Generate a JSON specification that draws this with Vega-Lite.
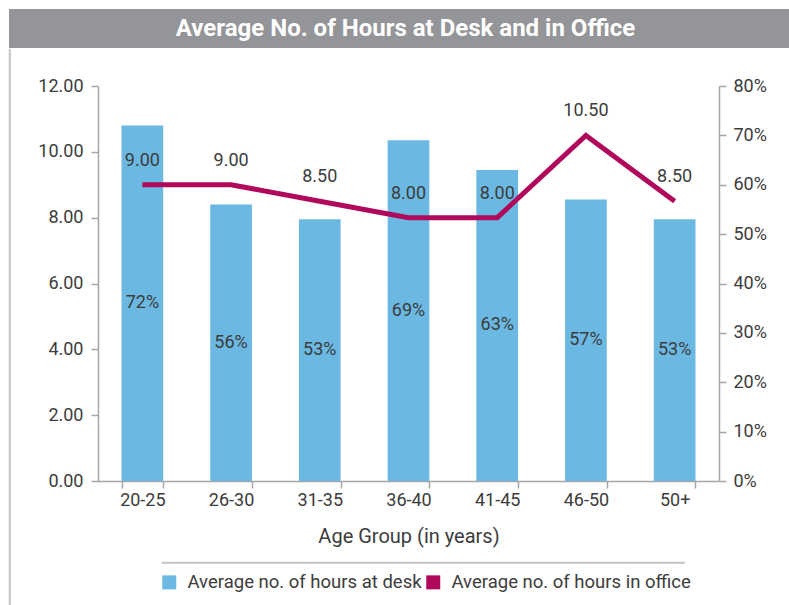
{
  "$schema": "https://vega.github.io/schema/vega-lite/v6.json",
  "padding": {"left": 8, "top": 9, "right": 0, "bottom": 0},
  "background": "white",
  "config": {
    "font": "Roboto",
    "view": {"stroke": null},
    "concat": {"spacing": 0},
    "axis": {
      "domainColor": "#a6a6a6",
      "tickColor": "#a6a6a6",
      "domainWidth": 1.5,
      "tickWidth": 1.5,
      "tickSize": 7,
      "labelFontSize": 18,
      "labelColor": "#3c3c3c",
      "titleColor": "#3c3c3c",
      "titleFontWeight": "normal",
      "grid": false
    }
  },
  "datasets": {
    "hours": [
      {"age": "20-25", "desk": 0.72, "office": 9.0},
      {"age": "26-30", "desk": 0.56, "office": 9.0},
      {"age": "31-35", "desk": 0.53, "office": 8.5},
      {"age": "36-40", "desk": 0.69, "office": 8.0},
      {"age": "41-45", "desk": 0.63, "office": 8.0},
      {"age": "46-50", "desk": 0.57, "office": 10.5},
      {"age": "50+", "desk": 0.53, "office": 8.5}
    ]
  },
  "spacing": 0,
  "vconcat": [
    {
      "width": 781,
      "height": 39,
      "view": {"fill": "#939598", "stroke": null},
      "data": {"values": [{"title": "Average No. of Hours at Desk and in Office"}]},
      "mark": {"type": "text", "fontWeight": "bold", "fontSize": 24, "color": "white", "baseline": "middle", "align": "center", "dx": 6},
      "encoding": {"text": {"field": "title", "type": "nominal"}}
    },
    {
      "spacing": 26,
      "hconcat": [
        {
          "width": 1,
          "height": 557,
          "view": {"stroke": "#a6a6a6", "strokeWidth": 0.75, "fill": null},
          "data": {"values": [{}]},
          "mark": {"type": "text", "text": ""}
        },
        {
          "spacing": 10,
          "vconcat": [
            {
              "width": 1,
              "height": 18,
              "data": {"values": [{}]},
              "mark": {"type": "text", "text": ""}
            },
            {
              "width": 621,
              "height": 395,
              "data": {"name": "hours"},
              "encoding": {
                "x": {
                  "field": "age",
                  "type": "nominal",
                  "sort": null,
                  "title": "Age Group (in years)",
                  "scale": {"paddingInner": 0.53, "paddingOuter": 0.265},
                  "axis": {"labelAngle": 0, "tickBand": "extent", "labelPadding": 3, "titleFontSize": 20, "titlePadding": 17}
                }
              },
              "layer": [
                {
                  "mark": {"type": "bar"},
                  "encoding": {
                    "y": {
                      "field": "desk",
                      "type": "quantitative",
                      "scale": {"domain": [0, 0.8]},
                      "axis": {"orient": "right", "title": null, "format": ".0%", "values": [0, 0.1, 0.2, 0.3, 0.4, 0.5, 0.6, 0.7, 0.8], "labelPadding": 7}
                    },
                    "color": {
                      "datum": "Average no. of hours at desk",
                      "type": "nominal",
                      "scale": {"domain": ["Average no. of hours at desk", "Average no. of hours in office"], "range": ["#6bb8e2", "#b0085a"]},
                      "legend": {
                        "orient": "none",
                        "legendX": 151,
                        "legendY": 564,
                        "direction": "horizontal",
                        "title": null,
                        "symbolType": "square",
                        "symbolSize": 196,
                        "symbolOpacity": 1,
                        "symbolStrokeWidth": 0,
                        "labelFontSize": 18.5,
                        "labelLimit": 400,
                        "labelColor": "#3c3c3c",
                        "labelOffset": 9,
                        "columnPadding": 2,
                        "padding": 0
                      }
                    }
                  }
                },
                {
                  "mark": {"type": "text", "fontSize": 18, "color": "#3c3c3c", "baseline": "middle"},
                  "encoding": {
                    "y": {"field": "desk", "type": "quantitative", "scale": {"domain": [0, 1.6]}, "axis": null},
                    "text": {"field": "desk", "type": "quantitative", "format": ".0%"}
                  }
                },
                {
                  "mark": {"type": "line", "strokeWidth": 5},
                  "encoding": {
                    "y": {
                      "field": "office",
                      "type": "quantitative",
                      "scale": {"domain": [0, 12]},
                      "axis": {"orient": "left", "title": null, "format": ".2f", "values": [0, 2, 4, 6, 8, 10, 12], "labelPadding": 8}
                    },
                    "color": {"datum": "Average no. of hours in office", "type": "nominal"}
                  }
                },
                {
                  "mark": {"type": "text", "fontSize": 18, "color": "#3c3c3c", "baseline": "middle", "dy": -24},
                  "encoding": {
                    "y": {"field": "office", "type": "quantitative", "scale": {"domain": [0, 12]}, "axis": null},
                    "text": {"field": "office", "type": "quantitative", "format": ".2f"}
                  }
                }
              ],
              "resolve": {"scale": {"y": "independent"}}
            },
            {
              "spacing": 0,
              "hconcat": [
                {
                  "width": 63,
                  "height": 1,
                  "data": {"values": [{}]},
                  "mark": {"type": "text", "text": ""}
                },
                {
                  "width": 522,
                  "height": 1,
                  "view": {"stroke": "#a6a6a6", "strokeWidth": 0.75, "fill": null},
                  "data": {"values": [{}]},
                  "mark": {"type": "text", "text": ""}
                }
              ]
            }
          ]
        }
      ]
    }
  ]
}
